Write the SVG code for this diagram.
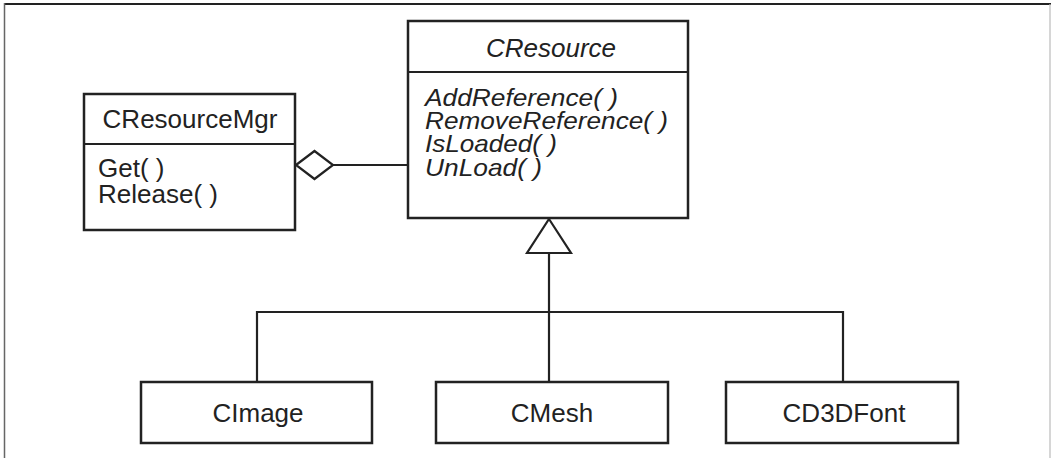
<svg xmlns="http://www.w3.org/2000/svg" width="1051" height="458" viewBox="0 0 1051 458">
<style>
.box{fill:#fff;stroke:#222;stroke-width:2.5}
.ln{fill:none;stroke:#222;stroke-width:2.2}
.t{font-family:"Liberation Sans",Arial,sans-serif;font-size:26px;fill:#222}
.m{font-family:"Liberation Sans",Arial,sans-serif;font-size:24px;font-style:italic;fill:#222}
.i{font-style:italic}
</style>
<rect width="1051" height="458" fill="#fff"/>
<g id="frame">
<line x1="4" y1="4" x2="1051" y2="4" stroke="#222" stroke-width="2.2"/>
<line x1="4.5" y1="3" x2="4.5" y2="458" stroke="#666" stroke-width="1.5"/>
<line x1="1050" y1="4" x2="1050" y2="458" stroke="#bbb" stroke-width="1.2"/>
</g>
<g id="connectors">
<line class="ln" x1="333" y1="165" x2="408" y2="165"/>
<polygon class="ln" points="296,165 314.5,151 333,165 314.5,179" fill="#fff"/>
<polygon class="ln" points="549,219 571,253 527,253" fill="#fff"/>
<line class="ln" x1="549" y1="253" x2="549" y2="382"/>
<line class="ln" x1="257" y1="312" x2="843" y2="312"/>
<line class="ln" x1="257" y1="311" x2="257" y2="382"/>
<line class="ln" x1="843" y1="311" x2="843" y2="382"/>
</g>
<g id="CResourceMgr">
<rect class="box" x="84" y="94" width="211" height="136"/>
<line class="ln" x1="84" y1="144" x2="295" y2="144"/>
<text class="t" x="190" y="128" text-anchor="middle">CResourceMgr</text>
<text class="t" x="98" y="177">Get( )</text>
<text class="t" x="98" y="203">Release( )</text>
</g>
<g id="CResource">
<rect class="box" x="408" y="21" width="280" height="197"/>
<line class="ln" x1="408" y1="72" x2="688" y2="72"/>
<text class="t i" x="551" y="57" text-anchor="middle">CResource</text>
<text class="m" x="425" y="106" textLength="193" lengthAdjust="spacingAndGlyphs">AddReference( )</text>
<text class="m" x="425" y="129" textLength="243" lengthAdjust="spacingAndGlyphs">RemoveReference( )</text>
<text class="m" x="425" y="152" textLength="132" lengthAdjust="spacingAndGlyphs">IsLoaded( )</text>
<text class="m" x="425" y="176" textLength="117" lengthAdjust="spacingAndGlyphs">UnLoad( )</text>
</g>
<g id="CImage">
<rect class="box" x="141" y="382" width="231" height="61"/>
<text class="t" x="258" y="422" text-anchor="middle">CImage</text>
</g>
<g id="CMesh">
<rect class="box" x="436" y="382" width="232" height="61"/>
<text class="t" x="552" y="422" text-anchor="middle">CMesh</text>
</g>
<g id="CD3DFont">
<rect class="box" x="726" y="382" width="232" height="61"/>
<text class="t" x="844" y="422" text-anchor="middle">CD3DFont</text>
</g>
</svg>
